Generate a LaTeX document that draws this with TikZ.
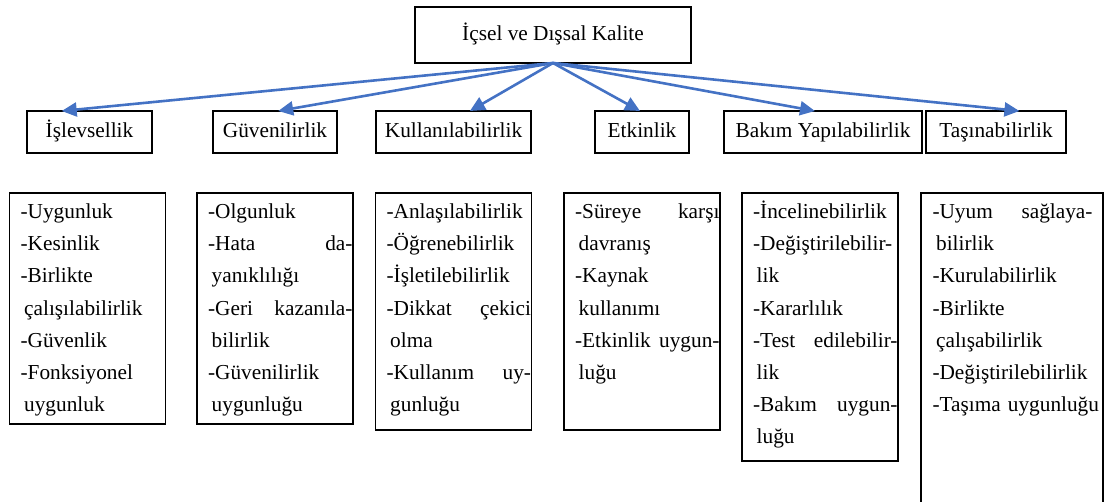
\documentclass[tikz,border=0pt]{standalone}
\usepackage{fontspec}
\setmainfont{Liberation Serif}
\usetikzlibrary{arrows.meta, positioning}
\definecolor{okmavi}{RGB}{68,114,196}
\tikzstyle{kutu} = [rectangle, draw=black, line width=0.6pt, outer sep=0pt, font=\fontsize{10.65}{16}\selectfont]
\tikzstyle{ana} = [kutu, minimum width=138pt, minimum height=28pt, text height=7.5pt, text depth=2.2pt]
\tikzstyle{ozellik} = [kutu, minimum height=21pt, inner xsep=0pt, text height=7.5pt, text depth=2.2pt]
\tikzstyle{liste} = [kutu, text width=77.5pt, inner xsep=0.25pt, inner ysep=4pt, align=left, text height=9pt, execute at begin node={\setlength\leftskip{5.3pt}}]
\tikzstyle{arrow} = [line width=1.3pt, draw=okmavi, -{Triangle[length=7.5pt, width=7pt]}]
\newcommand{\dev}{\hspace*{1.8pt}}

\begin{document}
\begin{tikzpicture}[x=0.5pt, y=-0.5pt]
\useasboundingbox (0,0) rectangle (1117,502);
\clip (0,0) rectangle (1117,502);

\node (ust) [ana] at (553,35) {İçsel ve Dışsal Kalite};

\node (isl) [ozellik, minimum width=62.5pt] at (89.5,132) {İşlevsellik};
\node (guv) [ozellik, minimum width=62pt, right=30.5pt of isl] {Güvenilirlik};
\node (kul) [ozellik, minimum width=77.5pt, right=19.5pt of guv] {Kullanılabilirlik};
\node (etk) [ozellik, minimum width=47pt, right=32pt of kul] {Etkinlik};
\node (bak) [ozellik, minimum width=99pt, right=17.5pt of etk] {Bakım Yapılabilirlik};
\node (tas) [ozellik, minimum width=70pt, right=2pt of bak] {Taşınabilirlik};

\draw[arrow] (ust.south) -- ([xshift=-13.9pt]isl.north);
\draw[arrow] (ust.south) -- ([xshift=1.6pt]guv.north);
\draw[arrow] (ust.south) -- ([xshift=8.2pt]kul.north);
\draw[arrow] (ust.south) -- ([xshift=-1pt]etk.north);
\draw[arrow] (ust.south) -- ([xshift=-4pt]bak.north);
\draw[arrow] (ust.south) -- ([xshift=11.7pt]tas.north);

\node (isll) [liste, below=20pt of isl, xshift=-1pt, text depth=98.5pt] {-Uygunluk\\
-Kesinlik\\
-Birlikte\\
\dev çalışılabilirlik\\
-Güvenlik\\
-Fonksiyonel\\
\dev uygunluk};
\node (guvl) [liste, below=20pt of guv, text depth=98.5pt] {-Olgunluk\\
-Hata\hfill da-\\
\dev yanıklılığı\\
-Geri\hfill kazanıla-\\
\dev bilirlik\\
-Güvenilirlik\\
\dev uygunluğu};
\node (kull) [liste, below=20pt of kul, text depth=101.5pt] {-Anlaşılabilirlik\\
-Öğrenebilirlik\\
-İşletilebilirlik\\
-Dikkat\hfill çekici\\
\dev olma\\
-Kullanım\hfill uy-\\
\dev gunluğu};
\node (etkl) [liste, below=20pt of etk, text depth=101.5pt] {-Süreye\hfill karşı\\
\dev davranış\\
-Kaynak\\
\dev kullanımı\\
-Etkinlik\hfill uygun-\\
\dev luğu};
\node (bakl) [liste, below=20pt of bak, xshift=-1.5pt, text depth=117pt] {-İncelinebilirlik\\
-Değiştirilebilir-\\
\dev lik\\
-Kararlılık\\
-Test\hfill edilebilir-\\
\dev lik\\
-Bakım\hfill uygun-\\
\dev luğu};
\node (tasl) [liste, below=20pt of tas, xshift=8pt, text width=90.5pt, text depth=150pt,
  execute at begin node={\setlength\leftskip{5.5pt}}] {-Uyum\hfill sağlaya-\kern5pt\\
\dev bilirlik\\
-Kurulabilirlik\\
-Birlikte\\
\dev çalışabilirlik\\
-Değiştirilebilirlik\\
-Taşıma uygunluğu};
\end{tikzpicture}
\end{document}
